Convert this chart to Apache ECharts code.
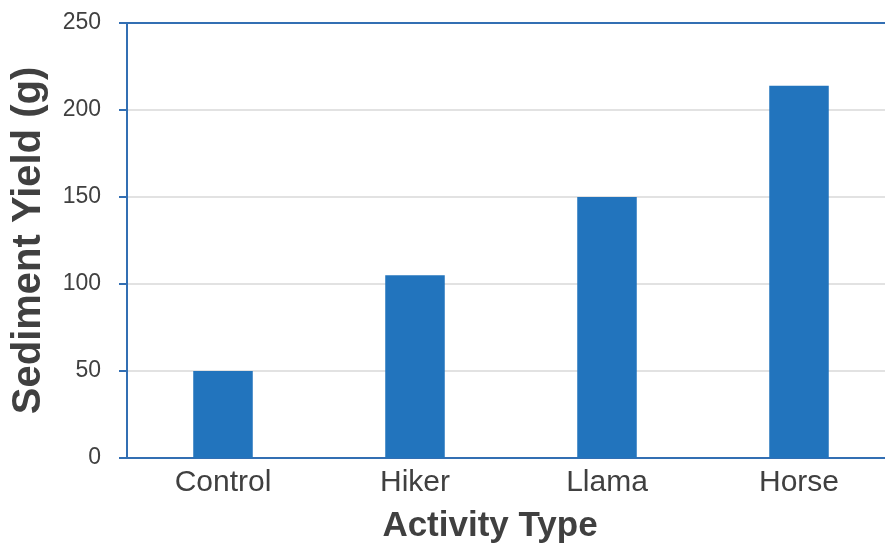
<!DOCTYPE html>
<html>
<head>
<meta charset="utf-8">
<script src="https://cdn.jsdelivr.net/npm/echarts@6/dist/echarts.min.js"></script>
<style>
	html, body { margin:0; padding:0; background:#fff; overflow:hidden; }
	/* 绘图区右侧超出画面，所以画布比窗口宽 */
	#chartSediment { width:895px; height:548px; }
</style>
</head>
<body>
<div id="chartSediment"></div>
<script>
	// 数据
	var activityList = ['Control', 'Hiker', 'Llama', 'Horse'];
	var sedimentYield = [50, 105, 150, 214];
	var yTicks = [0, 50, 100, 150, 200, 250];

	var axisBlue = '#336fb3';
	var textGray = '#404040';

	var myChart = echarts.init(document.getElementById('chartSediment'));
	var options = {
		animation: false,
		grid: {
			left: 127,
			top: 23,
			right: 0,
			bottom: 90,
			outerBoundsMode: 'none'
		},
		xAxis: [
			{
				type: 'category',
				data: activityList,
				position: 'bottom',
				name: 'Activity Type',
				nameLocation: 'middle',
				nameGap: 51,
				nameTextStyle: {
					fontFamily: 'Liberation Sans',
					fontWeight: 'bold',
					fontSize: 35,
					color: textGray,
					padding: [0, 42, 0, 0]
				},
				axisLine: { lineStyle: { color: axisBlue, width: 2 } },
				axisTick: { show: false },
				axisLabel: {
					fontFamily: 'Liberation Sans',
					fontSize: 30,
					color: textGray,
					margin: 10
				}
			},
			{
				// 顶部边框线
				type: 'category',
				data: activityList,
				position: 'top',
				axisLine: { lineStyle: { color: axisBlue, width: 2 } },
				axisTick: { show: false },
				axisLabel: { show: false }
			}
		],
		yAxis: {
			type: 'value',
			min: yTicks[0],
			max: yTicks[yTicks.length - 1],
			interval: 50,
			name: 'Sediment Yield (g)',
			nameLocation: 'middle',
			nameGap: 78,
			nameTextStyle: {
				fontFamily: 'Liberation Sans',
				fontWeight: 'bold',
				fontSize: 40,
				color: textGray
			},
			axisLine: { show: true, lineStyle: { color: axisBlue, width: 2 } },
			axisTick: { show: true, length: 8, lineStyle: { color: axisBlue, width: 2 } },
			axisLabel: {
				fontFamily: 'Liberation Sans',
				fontSize: 23,
				color: textGray,
				margin: 26
			},
			splitLine: { lineStyle: { color: '#d9d9d9', width: 1.5 } }
		},
		series: [
			{
				name: 'Sediment Yield',
				type: 'bar',
				data: sedimentYield,
				barWidth: '31%',
				itemStyle: { color: '#2274bd' }
			}
		]
	};
	myChart.setOption(options);
</script>
</body>
</html>
